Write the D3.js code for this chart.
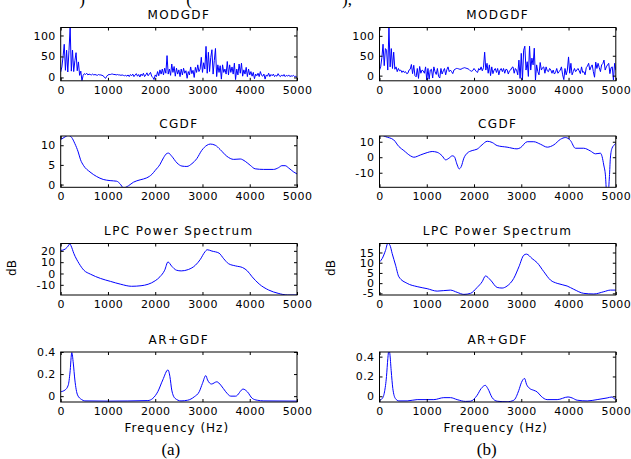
<!DOCTYPE html>
<html>
<head>
<meta charset="utf-8">
<script src="https://cdn.jsdelivr.net/npm/d3@7/dist/d3.min.js"></script>
<style>
  body { margin: 0; background: #fff; }
  svg { display: block; }
</style>
</head>
<body>
<svg id="chart" width="631" height="459"></svg>
<script>
// MODGDF traces are read on a 25 Hz grid
var freqStep = 25;

var modgdfA = [
  13, 25, 50, 79, 17, 65, 13, 64, 119, 15, 65, 14, 40, 59, 16, 37, 5, 15, -8, 5,
  9, 7, 10, 6, 8, 7, 6, 8, 6, 7, 6, 5, 7, 6, 6, 5, 4, 0, -2, 3,
  6, 7, 7, 8, 8, 7, 7, 6, 7, 6, 6, 5, 6, 5, 4, 5, 3, 6, 2, 7,
  4, 8, 2, 6, 9, 3, 7, 1, 8, 4, 10, 2, 6, 11, 4, 8, 12, 3, 0, -5,
  6, 2, 14, 4, 18, 8, 20, 6, 22, 10, 52, 8, 20, 5, 32, 12, 26, 3, 22, 8,
  18, 2, 20, 6, 22, 10, 16, -2, 14, 6, 25, 9, 17, 0, 24, 12, 30, 14, 20, 48,
  12, 35, 20, 74, 10, 60, 14, 48, 66, 8, 40, 69, 2, 30, 12, 28, -4, 30, 12, 20,
  8, 38, 6, 30, 12, 25, 8, 34, -5, 20, 6, 32, 10, 34, 3, 18, 8, 24, 2, 20,
  6, 14, 3, 12, -3, 8, 4, 10, 2, 14, 5, 3, 8, -4, 6, 3, 10, 2, 7, 4,
  8, 2, 5, 3, 9, 4, 2, 6, 3, 7, 2, 5, 3, 6, 2, 4, 3, 5, 2, 3,
  0
];

var modgdfB = [
  14, 22, 45, 79, 25, 68, 64, 14, 121, 22, 68, 18, 59, 16, 22, 10, 18, 12, 14, 8,
  12, 8, 10, 5, 6, 14, 16, 28, 5, 26, 0, -3, 18, -7, 23, 6, 14, 12, 6, 22,
  -11, 18, -9, 14, 16, -6, 22, 10, 3, 18, -2, -6, 18, 4, 12, 18, 2, 15, 22, 10,
  14, 10, 5, 14, 16, 18, 18, 17, 16, 16, 18, 19, 20, 19, 18, 17, 15, 12, 11, 13,
  18, 14, 10, 8, 18, 14, 22, 12, 20, 59, 14, 31, 6, 27, 0, 22, 5, 14, 18, 8,
  18, 2, 14, 18, 10, 18, 6, 16, 15, 4, 12, 14, 20, 22, 6, 18, 14, 2, 39, -7,
  56, -11, 64, 74, 14, 35, -2, 74, 14, 44, 27, 69, -11, 27, 10, 2, 33, 14, 20, 22,
  6, 22, 12, 10, 18, 14, 6, 14, 4, 8, 18, 6, 10, 14, 22, 2, -10, 18, 2, 14,
  47, 6, 31, 2, 10, 18, 10, 14, 18, 12, 5, 22, 8, 10, 2, 20, 24, 31, 14, 22,
  27, 10, -4, 34, 18, 31, 20, 10, 27, 30, 39, 14, 22, 27, 31, 5, 20, 22, -11, 31,
  14
];

// [frequency Hz, value]
var cgdfA = [
  [0, 11.45], [90, 12.1], [160, 12.5], [230, 12], [300, 10.4], [370, 8.3], [420, 6.3],
  [480, 4.9], [620, 3.2], [760, 2.05], [900, 1.3], [1045, 1.0], [1185, 0.85],
  [1255, 0.2], [1330, -0.85], [1435, -0.3], [1540, 0.6], [1680, 1.2], [1820, 1.7],
  [1930, 2.6], [2000, 3.6], [2100, 5.1], [2175, 6.8], [2245, 7.9], [2280, 8],
  [2350, 7.2], [2460, 5.5], [2565, 4.7], [2670, 4.6], [2775, 5.3], [2880, 6.6],
  [2985, 8.7], [3095, 10], [3165, 10.3], [3270, 10], [3375, 8.9], [3515, 7.2],
  [3660, 6.4], [3800, 6.5], [3905, 5.9], [4010, 4.9], [4115, 4], [4295, 3.85],
  [4505, 3.85], [4610, 4.3], [4680, 4.8], [4750, 4.8], [4825, 4.2], [4930, 3.2],
  [5000, 2.7]
];

var cgdfB = [
  [0, 15], [127, 13.3], [300, 11.2], [410, 6.9], [515, 4.3], [655, 0.9], [725, 0],
  [870, 1.5], [1010, 3], [1115, 3.7], [1220, 3.2], [1325, 0.9], [1400, -1.7],
  [1470, -0.6], [1540, 0.9], [1580, 0.5], [1645, -5], [1685, -7.5], [1730, -6],
  [1785, -0.6], [1855, 2.6], [1960, 4.3], [2065, 5.2], [2170, 8], [2280, 10.3],
  [2385, 9.5], [2490, 7.5], [2700, 6.5], [2910, 5.4], [2985, 6.2], [3125, 10],
  [3265, 10], [3405, 8.4], [3550, 6.5], [3690, 8], [3830, 11.6], [3935, 12.7],
  [4040, 10.8], [4145, 5.8], [4320, 5.8], [4460, 4.1], [4570, 2.2], [4675, 2.6],
  [4710, 0.4], [4745, -5], [4780, -11.4], [4805, -22], [4840, -22], [4865, -12.5],
  [4885, -0.6], [4920, 5.8], [4970, 8], [5000, 9]
];

var lpcA = [
  [0, 20.4], [70, 21], [140, 23.3], [195, 26.2], [215, 24.8], [280, 17.5], [390, 8.7],
  [490, 2.9], [630, -0.6], [845, -4.4], [1055, -7], [1270, -9.5], [1500, -11.3],
  [1700, -10.8], [1850, -9.5], [2000, -6.4], [2100, -2.9], [2200, 2.9], [2270, 10.2],
  [2350, 6.4], [2450, 2.9], [2550, 2.3], [2700, 3.5], [2850, 7.3], [2950, 12.2],
  [3050, 19], [3100, 21], [3200, 19.8], [3350, 18], [3450, 13], [3550, 8.7],
  [3700, 6.7], [3850, 5.2], [3950, 2.3], [4050, -2.9], [4200, -9.3], [4400, -14.6],
  [4600, -17.5], [4800, -19], [5000, -19]
];

var lpcB = [
  [0, 10.4], [56, 12], [127, 16], [176, 19.5], [220, 18.6], [268, 14.5], [340, 8.8],
  [410, 3.1], [585, -0.1], [797, -1.7], [1008, -2.7], [1220, -3.9], [1500, -3.4],
  [1643, -4.5], [1785, -5.5], [1925, -5], [2066, -2.1], [2172, 0.7], [2243, 3.5],
  [2350, 1.5], [2490, -2.1], [2595, -2.4], [2700, -1.4], [2840, 2.3], [2950, 8],
  [3054, 13.7], [3110, 14.2], [3230, 12], [3336, 10], [3477, 5.6], [3618, 1.5],
  [3759, -0.1], [3970, -1.4], [4110, -3], [4323, -5], [4535, -5.3], [4746, -4.2],
  [4887, -3.4], [5000, -3.4]
];

var argdfA = [
  [0, 0.04], [90, 0.055], [160, 0.1], [196, 0.21], [235, 0.395], [266, 0.3],
  [300, 0.146], [357, 0.01], [440, -0.03], [510, -0.043], [1000, -0.045],
  [1844, -0.04], [1950, -0.02], [2054, 0.04], [2160, 0.147], [2270, 0.238],
  [2310, 0.18], [2350, 0.055], [2420, -0.02], [2545, -0.043], [2686, -0.037],
  [2826, -0.006], [2931, 0.04], [3000, 0.116], [3070, 0.186], [3107, 0.147],
  [3191, 0.11], [3303, 0.13], [3387, 0.1], [3492, 0.04], [3598, 0], [3703, 0],
  [3860, 0.064], [3948, 0.04], [4053, -0.02], [4158, -0.037], [4299, -0.043],
  [5000, -0.045]
];

var argdfB = [
  [0, -0.04], [56, -0.024], [106, 0.044], [148, 0.2], [176, 0.38], [200, 0.47],
  [219, 0.43], [247, 0.26], [282, 0.078], [338, -0.024], [409, -0.047], [585, -0.047],
  [797, -0.034], [1150, -0.034], [1361, -0.014], [1502, -0.014], [1643, -0.034],
  [1820, -0.052], [1925, -0.05], [2066, 0.01], [2151, 0.078], [2240, 0.11],
  [2292, 0.078], [2384, -0.014], [2490, -0.05], [2700, -0.056], [2842, -0.04],
  [2948, 0.06], [3004, 0.14], [3070, 0.18], [3110, 0.122], [3180, 0.078],
  [3265, 0.06], [3336, 0.044], [3420, 0], [3547, -0.034], [3759, -0.034],
  [3990, -0.007], [4076, -0.017], [4182, -0.04], [4394, -0.047], [4605, -0.034],
  [4817, -0.017], [4922, -0.007], [4972, -0.027], [5000, 0]
];

var xTicks = [0, 1000, 2000, 3000, 4000, 5000];
var titles = ["MODGDF", "CGDF", "LPC Power Spectrum", "AR+GDF"];
var captions = ["(a)", "(b)"];
var xLabel = "Frequency (Hz)";
var yLabel = "dB";

(function(){
  var svg = d3.select("#chart");
  var colLeft = [60.7, 379.5], colWidth = 236.3;
  var rowTop = [27.5, 136, 243.5, 352];
  var rowBottom = [80.8, 187.3, 295, 402];
  var sans = "'DejaVu Sans', sans-serif";

  var panels = [
    {col: 0, row: 0, data: gridSeries(modgdfA), y: [-8, 119], ticks: [0, 50, 100], smooth: false},
    {col: 1, row: 0, data: gridSeries(modgdfB), y: [-13, 121], ticks: [0, 50, 100], smooth: false},
    {col: 0, row: 1, data: cgdfA, y: [-0.7, 12.35], ticks: [0, 5, 10], smooth: true},
    {col: 1, row: 1, data: cgdfB, y: [-19.4, 13.7], ticks: [-10, 0, 10], smooth: true},
    {col: 0, row: 2, data: lpcA, y: [-19, 26.5], ticks: [-10, 0, 10, 20], smooth: true},
    {col: 1, row: 2, data: lpcB, y: [-5.8, 19.4], ticks: [-5, 0, 5, 10, 15], smooth: true},
    {col: 0, row: 3, data: argdfA, y: [-0.053, 0.40], ticks: [0, 0.2, 0.4], smooth: true},
    {col: 1, row: 3, data: argdfB, y: [-0.058, 0.447], ticks: [0, 0.2, 0.4], smooth: true}
  ];

  function gridSeries(vals){
    return vals.map(function(v, i){ return [i * freqStep, v]; });
  }

  panels.forEach(drawPanel);
  drawLabels();

  function drawPanel(p, idx){
    var x0 = colLeft[p.col], y0 = rowTop[p.row];
    var w = colWidth, h = rowBottom[p.row] - y0;

    var x = d3.scaleLinear().domain([0, 5000]).range([0, w]);
    var y = d3.scaleLinear().domain(p.y).range([h, 0]);

    var g = svg.append("g").attr("transform", "translate(" + x0 + "," + y0 + ")");

    svg.append("clipPath").attr("id", "clip" + idx)
      .append("rect").attr("width", w).attr("height", h);

    var line = d3.line()
      .x(function(d){ return x(d[0]); })
      .y(function(d){ return y(d[1]); })
      .curve(p.smooth ? d3.curveMonotoneX : d3.curveLinear);

    g.append("path")
      .datum(p.data)
      .attr("clip-path", "url(#clip" + idx + ")")
      .attr("fill", "none")
      .attr("stroke", "#0000ff")
      .attr("stroke-width", 1)
      .attr("stroke-linejoin", "round")
      .attr("d", line);

    var fmt = function(d){ return String(d); };

    var ax = [
      {a: d3.axisBottom(x).tickValues(xTicks).tickFormat(fmt).tickPadding(5), t: "translate(0," + h + ")"},
      {a: d3.axisTop(x).tickValues(xTicks).tickFormat(""), t: null},
      {a: d3.axisLeft(y).tickValues(p.ticks).tickFormat(fmt).tickPadding(5), t: null},
      {a: d3.axisRight(y).tickValues(p.ticks).tickFormat(""), t: "translate(" + w + ",0)"}
    ];
    ax.forEach(function(o){
      var ag = g.append("g").attr("class", "axis");
      if (o.t) ag.attr("transform", o.t);
      ag.call(o.a.tickSizeInner(-3).tickSizeOuter(0));
      ag.select(".domain").remove();
      ag.selectAll("line").attr("stroke", "#000");
      ag.selectAll("text")
        .attr("fill", "#000")
        .style("font-family", sans)
        .style("font-size", "11px")
        .style("letter-spacing", "0.4px");
    });

    g.append("rect")
      .attr("width", w).attr("height", h)
      .attr("fill", "none")
      .attr("stroke", "#000")
      .attr("stroke-width", 1);

    g.append("text")
      .attr("x", w / 2).attr("y", -8.5)
      .attr("text-anchor", "middle")
      .style("font-family", sans)
      .style("font-size", "12px")
      .style("letter-spacing", "1.4px")
      .text(titles[p.row]);
  }

  function drawLabels(){
    colLeft.forEach(function(x0, c){
      var cx = x0 + colWidth / 2;
      svg.append("text")
        .attr("x", cx - 2).attr("y", 432)
        .attr("text-anchor", "middle")
        .style("font-family", sans)
        .style("font-size", "12px")
        .style("letter-spacing", "1px")
        .text(xLabel);

      svg.append("text")
        .attr("x", cx - 8 - c * 3).attr("y", 455)
        .attr("text-anchor", "middle")
        .style("font-family", "'Liberation Serif', 'Times New Roman', serif")
        .style("font-size", "17px")
        .text(captions[c]);

      svg.append("text")
        .attr("transform", "translate(" + (x0 - 45) + "," + 268 + ") rotate(-90)")
        .attr("text-anchor", "middle")
        .style("font-family", sans)
        .style("font-size", "12px")
        .text(yLabel);
    });

    // bottoms of a caption line cut off at the top edge
    [[82, ")"], [189, "("], [347, "),"]].forEach(function(t){
      svg.append("text")
        .attr("x", t[0]).attr("y", 5)
        .attr("text-anchor", "middle")
        .style("font-family", "'Liberation Serif', serif")
        .style("font-size", "17px")
        .text(t[1]);
    });
  }
})();
</script>
</body>
</html>
